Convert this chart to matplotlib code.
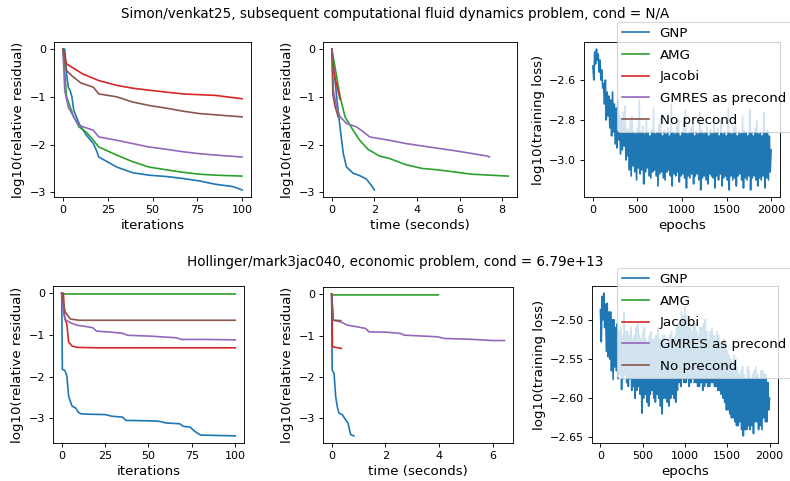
import numpy as np
import matplotlib
matplotlib.use('Agg')
import matplotlib.pyplot as plt

plt.rcParams['xtick.labelsize'] = 10
plt.rcParams['ytick.labelsize'] = 10

labels = ['GNP', 'AMG', 'Jacobi', 'GMRES as precond', 'No precond']
colors = ['C0', 'C2', 'C3', 'C4', 'C5']

title1 = 'Simon/venkat25, subsequent computational fluid dynamics problem, cond = N/A'
title2 = 'Hollinger/mark3jac040, economic problem, cond = 6.79e+13'

# ---- row 1: Simon/venkat25 ----
# residual vs iterations
it_gnp1 = [0, 1, 2, 3, 4, 5, 6, 9, 13, 17, 19, 20, 30, 39, 48, 58, 67, 76, 85, 95, 100]
res_gnp1 = [0, 0, -0.52, -0.80, -0.87, -1.0, -1.28, -1.56, -1.80, -1.98, -2.15, -2.26, -2.47, -2.59, -2.64, -2.67, -2.71, -2.76, -2.83, -2.88, -2.95]
it_amg1 = [0, 2, 6, 9, 13, 17, 20, 30, 39, 48, 58, 67, 76, 85, 100]
res_amg1 = [0, -1.0, -1.42, -1.63, -1.74, -1.91, -2.05, -2.22, -2.36, -2.47, -2.53, -2.58, -2.62, -2.64, -2.66]
it_jac1 = [0, 2, 4, 5, 11, 20, 30, 39, 50, 67, 85, 100]
res_jac1 = [0, -0.31, -0.36, -0.38, -0.52, -0.66, -0.76, -0.82, -0.87, -0.94, -0.97, -1.04]
it_gm1 = [0, 1, 3, 6, 9, 13, 17, 20, 30, 39, 48, 58, 67, 76, 85, 100]
res_gm1 = [0, -0.87, -1.22, -1.42, -1.60, -1.65, -1.70, -1.84, -1.91, -1.98, -2.05, -2.10, -2.15, -2.19, -2.22, -2.26]
it_no1 = [0, 2, 5, 10, 17, 20, 30, 39, 48, 58, 67, 76, 100]
res_no1 = [0, -0.45, -0.56, -0.71, -0.80, -0.94, -1.0, -1.11, -1.18, -1.24, -1.30, -1.35, -1.42]

# residual vs time
t_gnp1 = [0, 0.15, 0.31, 0.46, 0.54, 0.69, 1.0, 1.31, 1.62, 1.85, 2.0]
tr_gnp1 = [0, -0.66, -1.35, -1.91, -2.19, -2.47, -2.60, -2.65, -2.72, -2.85, -2.95]
t_amg1 = [0, 0.15, 0.39, 0.62, 1.0, 1.31, 1.7, 2.24, 2.7, 3.47, 4.25, 5.0, 6.56, 8.28]
tr_amg1 = [0, -0.38, -1.0, -1.42, -1.70, -1.91, -2.10, -2.24, -2.29, -2.42, -2.50, -2.53, -2.62, -2.66]
t_jac1 = [0, 0.1, 0.2, 0.39]
tr_jac1 = [0, -0.5, -0.7, -1.05]
t_gm1 = [0, 0.07, 0.23, 0.39, 0.7, 1.16, 1.5, 1.78, 2.7, 3.5, 4.25, 5.8, 7.3, 7.4]
tr_gm1 = [0, -0.87, -1.22, -1.42, -1.56, -1.63, -1.74, -1.84, -1.91, -1.98, -2.03, -2.13, -2.24, -2.26]
t_no1 = [0, 0.05, 0.15, 0.3]
tr_no1 = [0, -0.95, -1.2, -1.42]

# training loss, read as alternating upper (ep_hi) and lower (ep_lo) swings
ep_hi = list(range(0, 2001, 20))
ep_lo = list(range(10, 2000, 20))
loss_hi1 = [-2.53, -2.46, -2.445, -2.47, -2.50, -2.55, -2.62, -2.60, -2.66, -2.68,
            -2.70, -2.66, -2.72, -2.74, -2.70, -2.78, -2.80, -2.76, -2.73, -2.84,
            -2.85, -2.80, -2.78, -2.86, -2.87, -2.84, -2.70, -2.86, -2.83, -2.87,
            -2.80, -2.86, -2.88, -2.85, -2.74, -2.87, -2.86, -2.82, -2.79, -2.88,
            -2.85, -2.87, -2.84, -2.88, -2.72, -2.86, -2.87, -2.83, -2.80, -2.88,
            -2.86, -2.82, -2.75, -2.87, -2.86, -2.84, -2.82, -2.88, -2.86, -2.87,
            -2.76, -2.85, -2.87, -2.86, -2.83, -2.88, -2.85, -2.87, -2.78, -2.86,
            -2.84, -2.88, -2.80, -2.87, -2.86, -2.88, -2.74, -2.86, -2.87, -2.84,
            -2.82, -2.88, -2.86, -2.87, -2.78, -2.85, -2.86, -2.88, -2.75, -2.86,
            -2.88, -2.84, -2.80, -2.87, -2.86, -2.88, -2.76, -2.86, -2.85, -2.88,
            -2.95]
loss_lo1 = [-2.60, -2.52, -2.50, -2.56, -2.60, -2.64, -2.72, -2.80, -2.78, -2.84,
            -2.88, -2.86, -2.92, -2.94, -2.90, -2.97, -2.95, -2.93, -3.00, -2.98,
            -3.05, -3.08, -3.03, -3.06, -3.10, -3.04, -3.07, -3.05, -3.12, -3.06,
            -3.04, -3.08, -3.09, -3.06, -3.05, -3.08, -3.13, -3.07, -3.06, -3.09,
            -3.10, -3.06, -3.05, -3.08, -3.13, -3.07, -3.08, -3.06, -3.11, -3.08,
            -3.07, -3.09, -3.14, -3.08, -3.09, -3.07, -3.12, -3.08, -3.07, -3.10,
            -3.15, -3.09, -3.08, -3.10, -3.12, -3.07, -3.08, -3.09, -3.14, -3.08,
            -3.10, -3.07, -3.13, -3.09, -3.08, -3.10, -3.15, -3.08, -3.10, -3.09,
            -3.13, -3.08, -3.07, -3.10, -3.14, -3.09, -3.10, -3.08, -3.15, -3.09,
            -3.08, -3.10, -3.13, -3.09, -3.10, -3.08, -3.14, -3.09, -3.10, -3.06]

# ---- row 2: Hollinger/mark3jac040 ----
it_gnp2 = [0, 0.4, 1.4, 2, 3, 4, 5, 6, 8, 9.5, 11, 14, 25, 29, 35, 37, 51, 56, 60, 68, 70, 74, 76, 78, 80, 89, 100]
res_gnp2 = [0, -1.83, -1.84, -1.87, -1.99, -2.47, -2.59, -2.71, -2.75, -2.85, -2.89, -2.90, -2.91, -2.95, -2.97, -3.05, -3.06, -3.07, -3.11, -3.13, -3.19, -3.21, -3.29, -3.35, -3.40, -3.41, -3.42]
it_amg2 = [0, 1, 100]
res_amg2 = [0, -0.02, -0.02]
it_jac2 = [0, 1, 1.5, 2, 3, 4, 6, 9, 20, 100]
res_jac2 = [0, 0, -0.47, -0.63, -0.75, -1.17, -1.27, -1.30, -1.31, -1.31]
it_gm2 = [0, 1, 2, 5, 9, 14, 18, 20, 27, 35, 38, 51, 66, 69, 85, 100]
res_gm2 = [0, -0.47, -0.63, -0.71, -0.77, -0.80, -0.83, -0.91, -0.93, -0.96, -1.01, -1.03, -1.07, -1.11, -1.11, -1.12]
it_no2 = [0, 2, 5, 10, 100]
res_no2 = [0, -0.45, -0.62, -0.65, -0.65]

t_gnp2 = [0, 0.02, 0.09, 0.15, 0.21, 0.27, 0.40, 0.52, 0.61, 0.71, 0.83]
tr_gnp2 = [0, -1.83, -1.91, -2.47, -2.71, -2.87, -2.91, -3.03, -3.11, -3.39, -3.42]
t_amg2 = [0, 0.03, 3.98]
tr_amg2 = [0, -0.02, -0.02]
t_jac2 = [0, 0.03, 0.36]
tr_jac2 = [0, -1.27, -1.31]
t_gm2 = [0, 0.06, 0.34, 0.59, 0.96, 1.27, 1.39, 2.08, 2.58, 2.7, 3.33, 3.95, 4.2, 5.19, 6.0, 6.44]
tr_gm2 = [0, -0.63, -0.67, -0.75, -0.79, -0.83, -0.91, -0.92, -0.95, -0.99, -1.01, -1.03, -1.07, -1.09, -1.12, -1.12]
t_no2 = [0, 0.06, 0.34]
tr_no2 = [0, -0.63, -0.64]

loss_hi2 = [-2.487, -2.47, -2.466, -2.48, -2.479, -2.49, -2.49, -2.50, -2.50, -2.51,
            -2.505, -2.515, -2.51, -2.52, -2.49, -2.515, -2.515, -2.52, -2.51, -2.525,
            -2.52, -2.51, -2.505, -2.52, -2.525, -2.515, -2.51, -2.525, -2.53, -2.52,
            -2.515, -2.525, -2.525, -2.52, -2.51, -2.525, -2.53, -2.52, -2.52, -2.53,
            -2.525, -2.52, -2.515, -2.525, -2.52, -2.51, -2.505, -2.50, -2.49, -2.495,
            -2.483, -2.495, -2.50, -2.51, -2.515, -2.505, -2.505, -2.515, -2.52, -2.51,
            -2.51, -2.505, -2.50, -2.515, -2.525, -2.515, -2.51, -2.52, -2.525, -2.515,
            -2.52, -2.53, -2.535, -2.525, -2.53, -2.54, -2.545, -2.55, -2.555, -2.545,
            -2.55, -2.56, -2.57, -2.565, -2.56, -2.57, -2.575, -2.56, -2.565, -2.575,
            -2.57, -2.565, -2.56, -2.57, -2.575, -2.565, -2.565, -2.57, -2.57, -2.58,
            -2.60]
loss_lo2 = [-2.528, -2.50, -2.51, -2.54, -2.547, -2.55, -2.565, -2.576, -2.56, -2.565,
            -2.575, -2.57, -2.589, -2.575, -2.57, -2.58, -2.585, -2.575, -2.59, -2.585,
            -2.60, -2.59, -2.585, -2.595, -2.619, -2.60, -2.595, -2.605, -2.61, -2.595,
            -2.59, -2.60, -2.605, -2.595, -2.60, -2.61, -2.62, -2.60, -2.60, -2.605,
            -2.61, -2.60, -2.595, -2.60, -2.605, -2.59, -2.58, -2.585, -2.575, -2.58,
            -2.58, -2.575, -2.585, -2.58, -2.575, -2.58, -2.58, -2.585, -2.585, -2.58,
            -2.59, -2.585, -2.58, -2.585, -2.585, -2.58, -2.58, -2.585, -2.585, -2.59,
            -2.59, -2.595, -2.60, -2.605, -2.615, -2.615, -2.62, -2.625, -2.625, -2.63,
            -2.635, -2.635, -2.63, -2.64, -2.648, -2.64, -2.64, -2.635, -2.64, -2.635,
            -2.645, -2.63, -2.63, -2.64, -2.635, -2.64, -2.625, -2.63, -2.63, -2.615]


def zigzag(hi, lo):
    ep = []
    val = []
    for i in range(len(lo)):
        ep += [ep_hi[i], ep_lo[i]]
        val += [hi[i], lo[i]]
    ep.append(ep_hi[-1])
    val.append(hi[-1])
    return ep, val


W, H = 790, 481
DPI = 80
fig = plt.figure(figsize=(W / DPI, H / DPI), dpi=DPI)


def box(l, t, r, b):
    return [l / W, 1 - b / H, (r - l) / W, (b - t) / H]


rows = [
    dict(title=title1, ty=14,
         its=[(it_gnp1, res_gnp1), (it_amg1, res_amg1), (it_jac1, res_jac1), (it_gm1, res_gm1), (it_no1, res_no1)],
         ts=[(t_gnp1, tr_gnp1), (t_amg1, tr_amg1), (t_jac1, tr_jac1), (t_gm1, tr_gm1), (t_no1, tr_no1)],
         loss=(loss_hi1, loss_lo1),
         boxes=[(54, 42, 251, 197), (323, 42, 517, 197), (584, 42, 780, 197)], leg_bottom=132,
         tticks=[0, 2, 4, 6, 8], lticks=[-2.6, -2.8, -3.0]),
    dict(title=title2, ty=262,
         its=[(it_gnp2, res_gnp2), (it_amg2, res_amg2), (it_jac2, res_jac2), (it_gm2, res_gm2), (it_no2, res_no2)],
         ts=[(t_gnp2, tr_gnp2), (t_amg2, tr_amg2), (t_jac2, tr_jac2), (t_gm2, tr_gm2), (t_no2, tr_no2)],
         loss=(loss_hi2, loss_lo2),
         boxes=[(53, 286, 244, 443), (323, 287, 513, 443), (592, 286, 778, 443)], leg_bottom=378,
         tticks=[0, 2, 4, 6], lticks=[-2.50, -2.55, -2.60, -2.65]),
]

for row in rows:
    fig.text(0.5, 1 - row['ty'] / H, row['title'], ha='center', va='center', fontsize=12.2)
    ax1 = fig.add_axes(box(*row['boxes'][0]))
    ax2 = fig.add_axes(box(*row['boxes'][1]))
    ax3 = fig.add_axes(box(*row['boxes'][2]))
    handles = []
    for (x, y), c, lab in zip(row['its'], colors, labels):
        h, = ax1.plot(x, y, color=c, label=lab)
        handles.append(h)
    for (x, y), c in zip(row['ts'], colors):
        ax2.plot(x, y, color=c)
    ep, val = zigzag(*row['loss'])
    ax3.plot(ep, val, color='C0')
    ax1.set_xticks([0, 25, 50, 75, 100])
    ax1.set_yticks([0, -1, -2, -3])
    ax2.set_xticks(row['tticks'])
    ax2.set_yticks([0, -1, -2, -3])
    ax3.set_xticks([0, 500, 1000, 1500, 2000])
    ax3.set_yticks(row['lticks'])
    ax1.set_xlabel('iterations', fontsize=12)
    ax1.set_ylabel('log10(relative residual)', fontsize=12)
    ax2.set_xlabel('time (seconds)', fontsize=12)
    ax2.set_ylabel('log10(relative residual)', fontsize=12)
    ax3.set_xlabel('epochs', fontsize=12)
    ax3.set_ylabel('log10(training loss)', fontsize=12)
    ax3.legend(handles, labels, loc='lower left', fontsize=12, borderaxespad=0, labelspacing=0.65,
               bbox_to_anchor=(617 / W, 1 - row['leg_bottom'] / H), bbox_transform=fig.transFigure)

fig.savefig('out.png', dpi=DPI)
